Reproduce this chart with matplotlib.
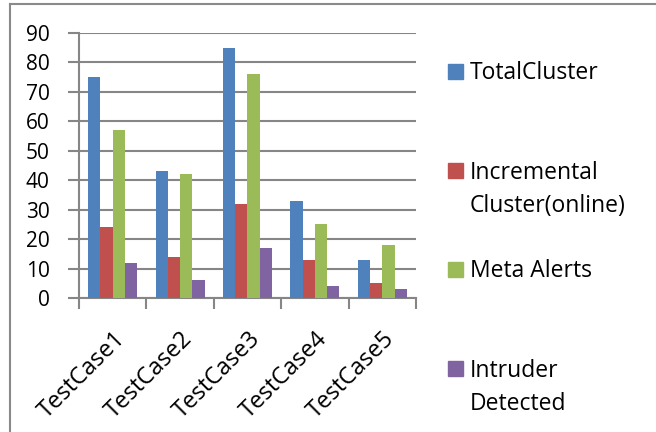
import matplotlib.pyplot as plt
import numpy as np
from matplotlib.patches import Rectangle
from matplotlib.lines import Line2D
from matplotlib.transforms import ScaledTranslation

plt.rcParams['font.family'] = ['Open Sans', 'DejaVu Sans']

cases = ['TestCase1', 'TestCase2', 'TestCase3', 'TestCase4', 'TestCase5']
series = ['TotalCluster', 'Incremental\nCluster(online)', 'Meta Alerts', 'Intruder\nDetected']
total_cluster = [75, 43, 85, 33, 13]
incremental = [24, 14, 32, 13, 5]
meta_alerts = [57, 42, 76, 25, 18]
intruders = [12, 6, 17, 4, 3]
colors = ['#4F81BD', '#C0504D', '#9BBB59', '#8064A2']

W, H = 656, 432
fig = plt.figure(figsize=(W / 100, H / 100), dpi=100)
ax = fig.add_axes([79 / W, 1 - 298 / H, (416 - 79) / W, (298 - 33) / H])

grid_c = '#868686'
x = np.arange(len(cases))
bw = 0.182
for i, vals in enumerate([total_cluster, incremental, meta_alerts, intruders]):
    ax.bar(x + (i - 1.5) * bw, vals, width=bw, color=colors[i], zorder=3)

ax.set_xlim(-0.5, len(cases) - 0.5)
ax.set_ylim(0, 90)
ax.set_yticks(range(0, 91, 10))
ax.yaxis.grid(True, color=grid_c, linewidth=1.5, zorder=0)
for s in ['top', 'right']:
    ax.spines[s].set_visible(False)
for s in ['left', 'bottom']:
    ax.spines[s].set_color(grid_c)
    ax.spines[s].set_linewidth(1.5)

# category boundaries get the tick marks, labels sit at centres
ax.set_xticks(np.arange(len(cases) + 1) - 0.5)
ax.set_xticklabels([])
ax.set_xticks(x, minor=True)
ax.set_xticklabels(cases, minor=True, rotation=45, ha='right',
                   va='center', rotation_mode='anchor', fontsize=17)
ax.tick_params(axis='x', which='minor', length=0, pad=27)
ax.tick_params(axis='x', which='major', length=8, width=1.5, color=grid_c)
ax.tick_params(axis='y', length=8, width=1.5, color=grid_c, labelsize=15, pad=13)
shift = ScaledTranslation(9 / 100, 0, fig.dpi_scale_trans)
for lbl in ax.get_xticklabels(minor=True):
    lbl.set_transform(lbl.get_transform() + shift)

# legend entries, first text line sits level with the swatch
leg_y = [71.5, 170.5, 269.5, 368.5]
line_h = 34
for c, lab, y in zip(colors, series, leg_y):
    fig.patches.append(Rectangle((448 / W, 1 - (y + 7.5) / H), 15 / W, 15 / H,
                                 transform=fig.transFigure, color=c))
    extra = lab.count('\n') * line_h
    fig.text(470 / W, 1 - (y + 7.5 + extra) / H, lab, fontsize=16.5,
             va='baseline', ha='left', linespacing=1.5)

# outer frame
fig.add_artist(Line2D([10 / W, 10 / W], [0, 1 - 4 / H], color='#8a8a8a', lw=1.5))
fig.add_artist(Line2D([10 / W, 1], [1 - 4 / H, 1 - 4 / H], color='#8a8a8a', lw=1.5))

fig.savefig('out.png', dpi=100, facecolor='white')
